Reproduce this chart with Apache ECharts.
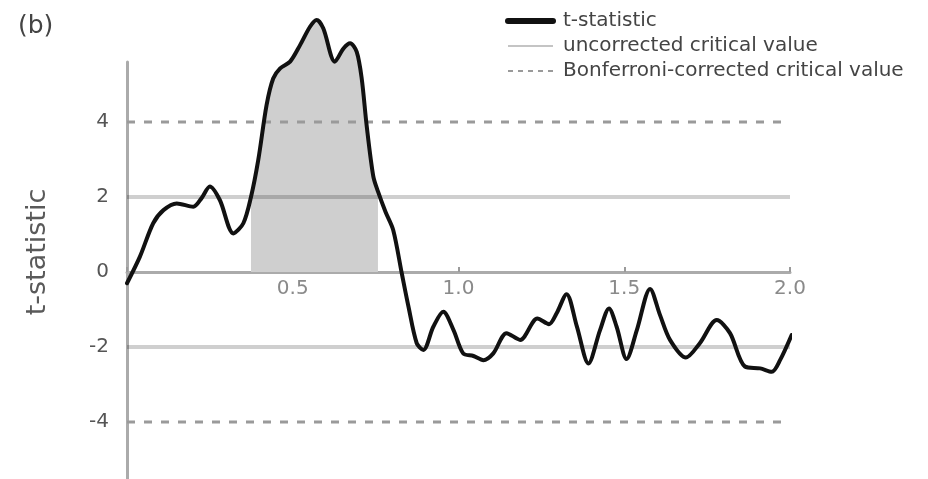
<!DOCTYPE html>
<html>
<head>
<meta charset="utf-8">
<script src="https://cdn.jsdelivr.net/npm/echarts@6/dist/echarts.min.js"></script>
<style>
  html, body { margin: 0; padding: 0; background: #ffffff; }
  #chart { width: 928px; height: 479px; }
</style>
</head>
<body>
<div id="chart"></div>
<script>
// Time (s) and t-statistic samples of the traced curve
const timePoints = [
  0.000, 0.039, 0.079, 0.110, 0.150, 0.200, 0.225, 0.250, 0.280, 0.321,
  0.351, 0.374, 0.396, 0.421, 0.441, 0.462, 0.492, 0.522, 0.552, 0.572,
  0.592, 0.627, 0.653, 0.673, 0.693, 0.708, 0.723, 0.743, 0.757, 0.780,
  0.803, 0.829, 0.849, 0.874, 0.894, 0.924, 0.954, 0.985, 1.014, 1.045,
  1.075, 1.105, 1.145, 1.186, 1.238, 1.273, 1.296, 1.326, 1.357, 1.392,
  1.427, 1.454, 1.477, 1.507, 1.538, 1.578, 1.608, 1.638, 1.686, 1.728,
  1.779, 1.819, 1.864, 1.910, 1.945, 1.970, 2.005
];
const tValues = [
  -0.30, 0.41, 1.30, 1.65, 1.83, 1.74, 1.97, 2.28, 1.92, 1.03,
   1.30, 2.00, 2.99, 4.45, 5.16, 5.43, 5.61, 6.05, 6.54, 6.72,
   6.50, 5.61, 5.96, 6.10, 5.87, 5.16, 3.90, 2.55, 2.15, 1.60,
   1.12, -0.04, -0.92, -1.90, -2.08, -1.46, -1.06, -1.55, -2.17, -2.24,
  -2.35, -2.17, -1.63, -1.81, -1.24, -1.39, -1.10, -0.59, -1.45, -2.44,
  -1.55, -0.97, -1.46, -2.32, -1.55, -0.45, -1.15, -1.81, -2.28, -1.90,
  -1.28, -1.63, -2.52, -2.57, -2.66, -2.35, -1.68
];

// Significant cluster (shaded under the curve)
const clusterStart = 0.374;
const clusterEnd = 0.757;

// Critical values
const uncorrectedCrit = 2;
const bonferroniCrit = 4;
const criticalSpan = [0, 2];

// Tick labels
const xTickValues = [0.5, 1.0, 1.5, 2.0];
const yTickValues = [-4, -2, 0, 2, 4];

// Value range of the vertical axis
const yMin = -5.52;
const yMax = 5.6;

const FONT = "'DejaVu Sans', 'Liberation Sans', sans-serif";

const curve = timePoints.map((t, i) => [t, tValues[i]]);
const cluster = curve.filter(p => p[0] >= clusterStart && p[0] <= clusterEnd);
const hLine = v => criticalSpan.map(x => [x, v]);

// Grid geometry (pixels); the time axis is lifted to sit on t = 0
const gridTop = 62;
const gridBottom = 0;
const gridHeight = 479 - gridTop - gridBottom;
const zeroOffset = -Math.round(gridHeight * (0 - yMin) / (yMax - yMin));

const chart = echarts.init(document.getElementById('chart'), null, { renderer: 'canvas' });

const critStyle = { color: 'rgba(0,0,0,0.19)', width: 4 };
const bonfStyle = { color: '#9a9a9a', width: 3, type: [8, 9] };
const hiddenSymbol = { opacity: 0, borderWidth: 0 };

chart.setOption({
  animation: false,
  backgroundColor: '#ffffff',
  grid: { left: 127, right: 138, top: gridTop, bottom: gridBottom, containLabel: false, outerBoundsMode: 'none' },
  xAxis: {
    type: 'value',
    position: 'bottom',
    offset: zeroOffset,
    min: 0,
    max: 2,
    interval: 0.5,
    axisLine: { show: true, onZero: false, lineStyle: { color: '#ababab', width: 3 } },
    axisTick: { show: true, inside: true, length: 5, lineStyle: { color: '#9a9a9a', width: 2 } },
    axisLabel: {
      show: true, margin: 7, hideOverlap: false, showMinLabel: true, showMaxLabel: true,
      color: '#8a8a8a', fontSize: 20, fontFamily: FONT,
      formatter: v => (Number(v) > 0 ? Number(v).toFixed(1) : '')
    },
    splitLine: { show: false }
  },
  yAxis: {
    type: 'value',
    min: yMin,
    max: yMax,
    axisLine: { show: true, onZero: false, lineStyle: { color: '#ababab', width: 3 } },
    axisTick: { show: false },
    axisLabel: {
      show: true, customValues: yTickValues, margin: 18,
      color: '#555555', fontSize: 20, fontFamily: FONT,
      formatter: v => String(v)
    },
    splitLine: { show: false }
  },
  legend: {
    orient: 'vertical',
    left: 505,
    top: 11,
    padding: 0,
    itemWidth: 45,
    itemHeight: 20,
    itemGap: 5,
    textStyle: { color: '#444444', fontSize: 20, fontFamily: FONT, lineHeight: 20, padding: [0, 0, 0, 5] },
    data: [
      { name: 't-statistic', itemStyle: hiddenSymbol, lineStyle: { width: 6, color: '#111111' } },
      { name: 'uncorrected critical value', itemStyle: hiddenSymbol, lineStyle: { width: 2, color: '#c4c4c4' } },
      { name: 'Bonferroni-corrected critical value', itemStyle: hiddenSymbol,
        lineStyle: { width: 2, color: '#9a9a9a', type: [5, 5] } }
    ]
  },
  graphic: [
    {
      type: 'text', x: 38, y: 252, rotation: Math.PI / 2,
      style: { text: 't-statistic', fill: '#5a5a5a', fontSize: 27, fontFamily: FONT,
               textAlign: 'center', textVerticalAlign: 'middle' }
    },
    {
      type: 'text', left: 18, top: 14,
      style: { text: '(b)', fill: '#444444', fontSize: 25, fontFamily: FONT }
    }
  ],
  series: [
    {
      name: 'cluster',
      type: 'line',
      data: cluster,
      smooth: 0.3,
      clip: false,
      symbol: 'none',
      lineStyle: { width: 0, opacity: 0 },
      areaStyle: { color: '#cfcfcf', opacity: 1, origin: 0 },
      z: 1,
      silent: true
    },
    {
      name: 'uncorrected critical value', type: 'line', data: hLine(uncorrectedCrit),
      symbol: 'none', lineStyle: critStyle, itemStyle: { color: '#c4c4c4' }, z: 2, silent: true
    },
    {
      name: 'uncorrected critical value', type: 'line', data: hLine(-uncorrectedCrit),
      symbol: 'none', lineStyle: critStyle, itemStyle: { color: '#c4c4c4' }, z: 2, silent: true
    },
    {
      name: 'Bonferroni-corrected critical value', type: 'line', data: hLine(bonferroniCrit),
      symbol: 'none', lineStyle: bonfStyle, itemStyle: { color: '#9a9a9a' }, z: 2, silent: true
    },
    {
      name: 'Bonferroni-corrected critical value', type: 'line', data: hLine(-bonferroniCrit),
      symbol: 'none', lineStyle: bonfStyle, itemStyle: { color: '#9a9a9a' }, z: 2, silent: true
    },
    {
      name: 't-statistic',
      type: 'line',
      data: curve,
      smooth: 0.3,
      clip: false,
      symbol: 'none',
      lineStyle: { color: '#111111', width: 4, join: 'round', cap: 'round' },
      itemStyle: { color: '#111111' },
      z: 5
    }
  ]
});
</script>
</body>
</html>
